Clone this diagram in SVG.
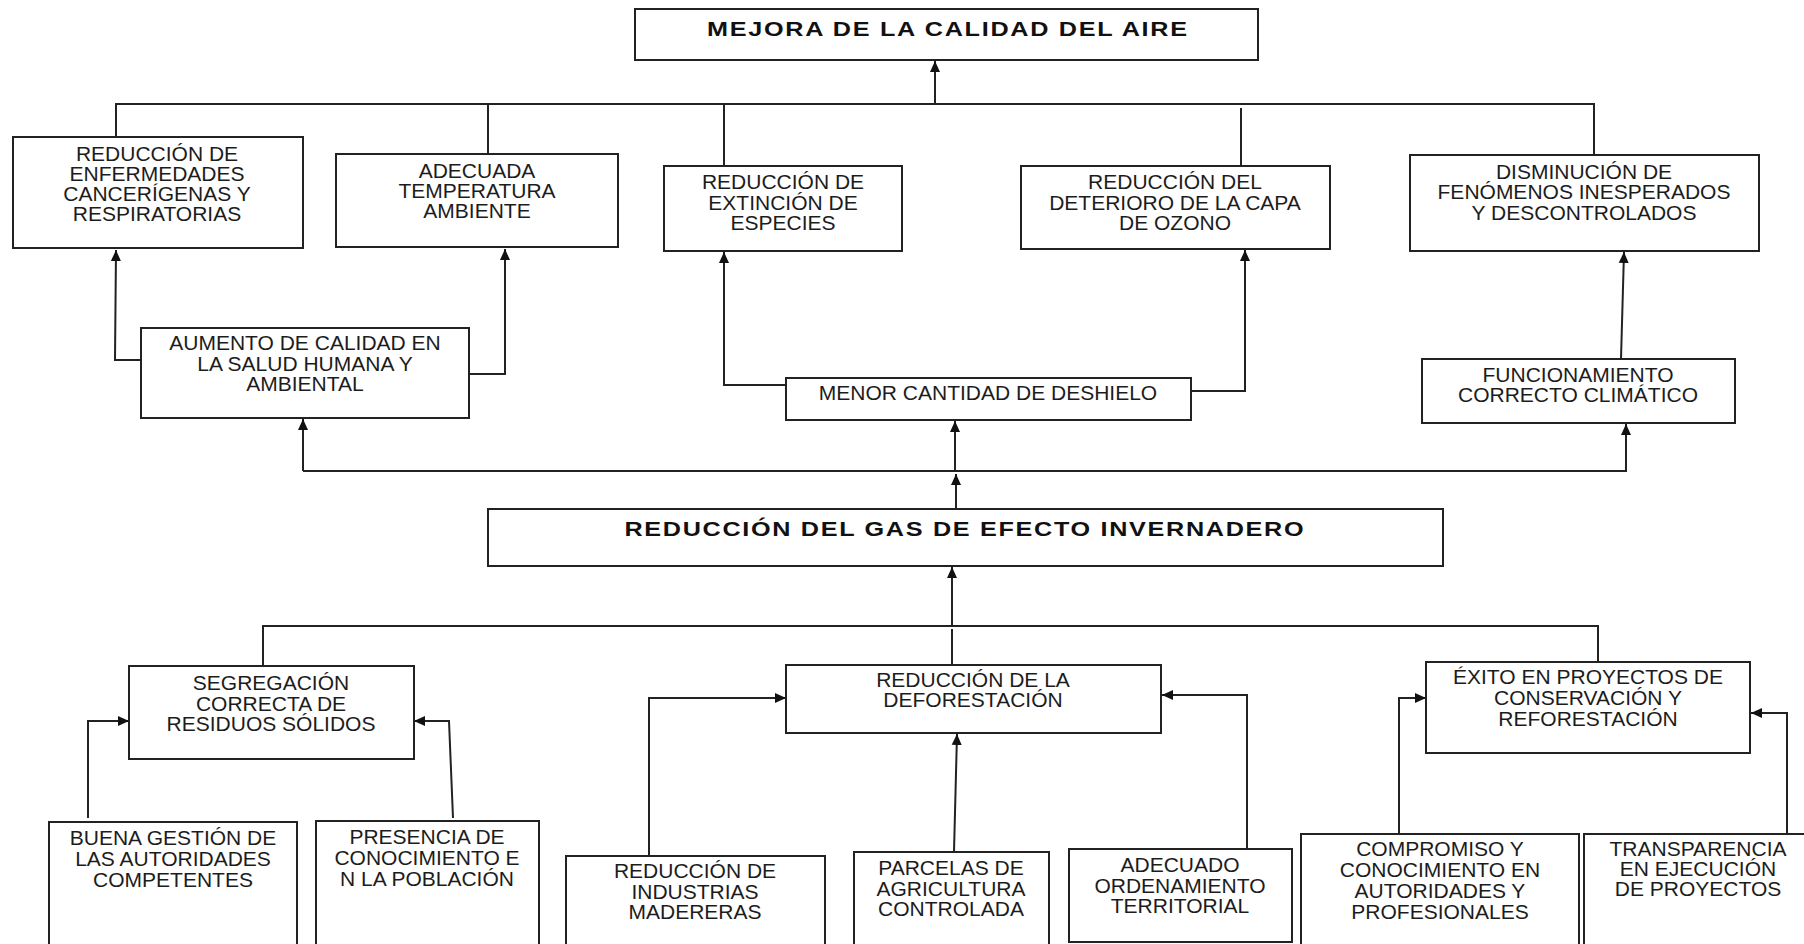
<svg xmlns="http://www.w3.org/2000/svg" width="1804" height="944" viewBox="0 0 1804 944">
<style>
.box{fill:#fff;stroke:#222;stroke-width:2}
.c{fill:none;stroke:#222;stroke-width:2}
.t{font-family:"Liberation Sans",Arial,sans-serif;font-size:21px;fill:#1c1c1c;text-anchor:middle}
.tb{font-family:"Liberation Sans",Arial,sans-serif;font-size:21px;font-weight:bold;fill:#111;text-anchor:middle}
</style>
<defs>
<marker id="ah" markerUnits="userSpaceOnUse" markerWidth="12" markerHeight="12" viewBox="0 0 12 12" refX="11" refY="6" orient="auto">
<path d="M0,1 L11,6 L0,11 z" fill="#111"/>
</marker>
</defs>
<rect width="1804" height="944" fill="#fff"/>

<g id="connectors">
<path class="c" d="M116,137 V104 H1594 V155"/>
<path class="c" d="M488,154 V104"/>
<path class="c" d="M724,166 V104"/>
<path class="c" d="M1241,166 V108"/>
<path class="c" d="M935,104 V61" marker-end="url(#ah)"/>
<path class="c" d="M141,360 H115 L116,250" marker-end="url(#ah)"/>
<path class="c" d="M469,374 H505 V249" marker-end="url(#ah)"/>
<path class="c" d="M786,385 H724 V252" marker-end="url(#ah)"/>
<path class="c" d="M1191,391 H1245 V250" marker-end="url(#ah)"/>
<path class="c" d="M1621,359 L1624,252" marker-end="url(#ah)"/>
<path class="c" d="M303,471 V419" marker-end="url(#ah)"/>
<path class="c" d="M303,471 H1626 V424" marker-end="url(#ah)"/>
<path class="c" d="M955,471 V421" marker-end="url(#ah)"/>
<path class="c" d="M956,508 V474" marker-end="url(#ah)"/>
<path class="c" d="M263,666 V626 H1598 V662"/>
<path class="c" d="M952,626 V567" marker-end="url(#ah)"/>
<path class="c" d="M952,629 V664"/>
<path class="c" d="M88,818 V721 H129" marker-end="url(#ah)"/>
<path class="c" d="M453,818 L449,721 H414" marker-end="url(#ah)"/>
<path class="c" d="M649,855 V698 H786" marker-end="url(#ah)"/>
<path class="c" d="M954,852 L957,734" marker-end="url(#ah)"/>
<path class="c" d="M1247,848 V695 H1162" marker-end="url(#ah)"/>
<path class="c" d="M1399,833 V698 H1426" marker-end="url(#ah)"/>
<path class="c" d="M1787,833 V713 H1751" marker-end="url(#ah)"/>
</g>

<g id="n_mejora">
<rect class="box" x="635" y="9" width="623" height="51"/>
<text class="tb" transform="translate(947,36) scale(1.2,1)" x="0" y="0" textLength="400" lengthAdjust="spacing">MEJORA  DE LA CALIDAD  DEL  AIRE</text>
</g>
<g id="n_enfermedades">
<rect class="box" x="13" y="137" width="290" height="111"/>
<text class="t" x="157" y="161">REDUCCIÓN DE</text>
<text class="t" x="157" y="181">ENFERMEDADES</text>
<text class="t" x="157" y="201">CANCERÍGENAS Y</text>
<text class="t" x="157" y="221">RESPIRATORIAS</text>
</g>
<g id="n_temperatura">
<rect class="box" x="336" y="154" width="282" height="93"/>
<text class="t" x="477" y="178">ADECUADA</text>
<text class="t" x="477" y="198">TEMPERATURA</text>
<text class="t" x="477" y="218">AMBIENTE</text>
</g>
<g id="n_extincion">
<rect class="box" x="664" y="166" width="238" height="85"/>
<text class="t" x="783" y="189">REDUCCIÓN DE</text>
<text class="t" x="783" y="210">EXTINCIÓN DE</text>
<text class="t" x="783" y="230">ESPECIES</text>
</g>
<g id="n_ozono">
<rect class="box" x="1021" y="166" width="309" height="83"/>
<text class="t" x="1175" y="189">REDUCCIÓN DEL</text>
<text class="t" x="1175" y="210">DETERIORO DE LA CAPA</text>
<text class="t" x="1175" y="230">DE OZONO</text>
</g>
<g id="n_fenomenos">
<rect class="box" x="1410" y="155" width="349" height="96"/>
<text class="t" x="1584" y="179">DISMINUCIÓN DE</text>
<text class="t" x="1584" y="199">FENÓMENOS INESPERADOS</text>
<text class="t" x="1584" y="220">Y DESCONTROLADOS</text>
</g>
<g id="n_aumento">
<rect class="box" x="141" y="328" width="328" height="90"/>
<text class="t" x="305" y="350">AUMENTO DE CALIDAD EN</text>
<text class="t" x="305" y="371">LA SALUD HUMANA Y</text>
<text class="t" x="305" y="391">AMBIENTAL</text>
</g>
<g id="n_deshielo">
<rect class="box" x="786" y="378" width="405" height="42"/>
<text class="t" x="988" y="400">MENOR CANTIDAD DE DESHIELO</text>
</g>
<g id="n_funcionamiento">
<rect class="box" x="1422" y="359" width="313" height="64"/>
<text class="t" x="1578" y="382">FUNCIONAMIENTO</text>
<text class="t" x="1578" y="402">CORRECTO CLIMÁTICO</text>
</g>
<g id="n_gas">
<rect class="box" x="488" y="509" width="955" height="57"/>
<text class="tb" transform="translate(964,536) scale(1.2,1)" x="0" y="0" textLength="566" lengthAdjust="spacing">REDUCCIÓN  DEL  GAS DE EFECTO  INVERNADERO</text>
</g>
<g id="n_segregacion">
<rect class="box" x="129" y="666" width="285" height="93"/>
<text class="t" x="271" y="690">SEGREGACIÓN</text>
<text class="t" x="271" y="711">CORRECTA DE</text>
<text class="t" x="271" y="731">RESIDUOS SÓLIDOS</text>
</g>
<g id="n_deforestacion">
<rect class="box" x="786" y="665" width="375" height="68"/>
<text class="t" x="973" y="687">REDUCCIÓN DE LA</text>
<text class="t" x="973" y="707">DEFORESTACIÓN</text>
</g>
<g id="n_exito">
<rect class="box" x="1426" y="662" width="324" height="91"/>
<text class="t" x="1588" y="684">ÉXITO EN PROYECTOS DE</text>
<text class="t" x="1588" y="705">CONSERVACIÓN Y</text>
<text class="t" x="1588" y="726">REFORESTACIÓN</text>
</g>
<g id="n_buena">
<rect class="box" x="49" y="822" width="248" height="140"/>
<text class="t" x="173" y="845">BUENA GESTIÓN DE</text>
<text class="t" x="173" y="866">LAS AUTORIDADES</text>
<text class="t" x="173" y="887">COMPETENTES</text>
</g>
<g id="n_presencia">
<rect class="box" x="316" y="821" width="223" height="140"/>
<text class="t" x="427" y="844">PRESENCIA DE</text>
<text class="t" x="427" y="865">CONOCIMIENTO E</text>
<text class="t" x="427" y="886">N LA POBLACIÓN</text>
</g>
<g id="n_industrias">
<rect class="box" x="566" y="856" width="259" height="110"/>
<text class="t" x="695" y="878">REDUCCIÓN DE</text>
<text class="t" x="695" y="899">INDUSTRIAS</text>
<text class="t" x="695" y="919">MADERERAS</text>
</g>
<g id="n_parcelas">
<rect class="box" x="854" y="852" width="195" height="110"/>
<text class="t" x="951" y="875">PARCELAS DE</text>
<text class="t" x="951" y="896">AGRICULTURA</text>
<text class="t" x="951" y="916">CONTROLADA</text>
</g>
<g id="n_ordenamiento">
<rect class="box" x="1069" y="849" width="223" height="93"/>
<text class="t" x="1180" y="872">ADECUADO</text>
<text class="t" x="1180" y="893">ORDENAMIENTO</text>
<text class="t" x="1180" y="913">TERRITORIAL</text>
</g>
<g id="n_compromiso">
<rect class="box" x="1301" y="834" width="278" height="130"/>
<text class="t" x="1440" y="856">COMPROMISO Y</text>
<text class="t" x="1440" y="877">CONOCIMIENTO EN</text>
<text class="t" x="1440" y="898">AUTORIDADES Y</text>
<text class="t" x="1440" y="919">PROFESIONALES</text>
</g>
<g id="n_transparencia">
<rect class="box" x="1584" y="834" width="240" height="130"/>
<text class="t" x="1698" y="856">TRANSPARENCIA</text>
<text class="t" x="1698" y="876">EN EJECUCIÓN</text>
<text class="t" x="1698" y="896">DE PROYECTOS</text>
</g>
</svg>
